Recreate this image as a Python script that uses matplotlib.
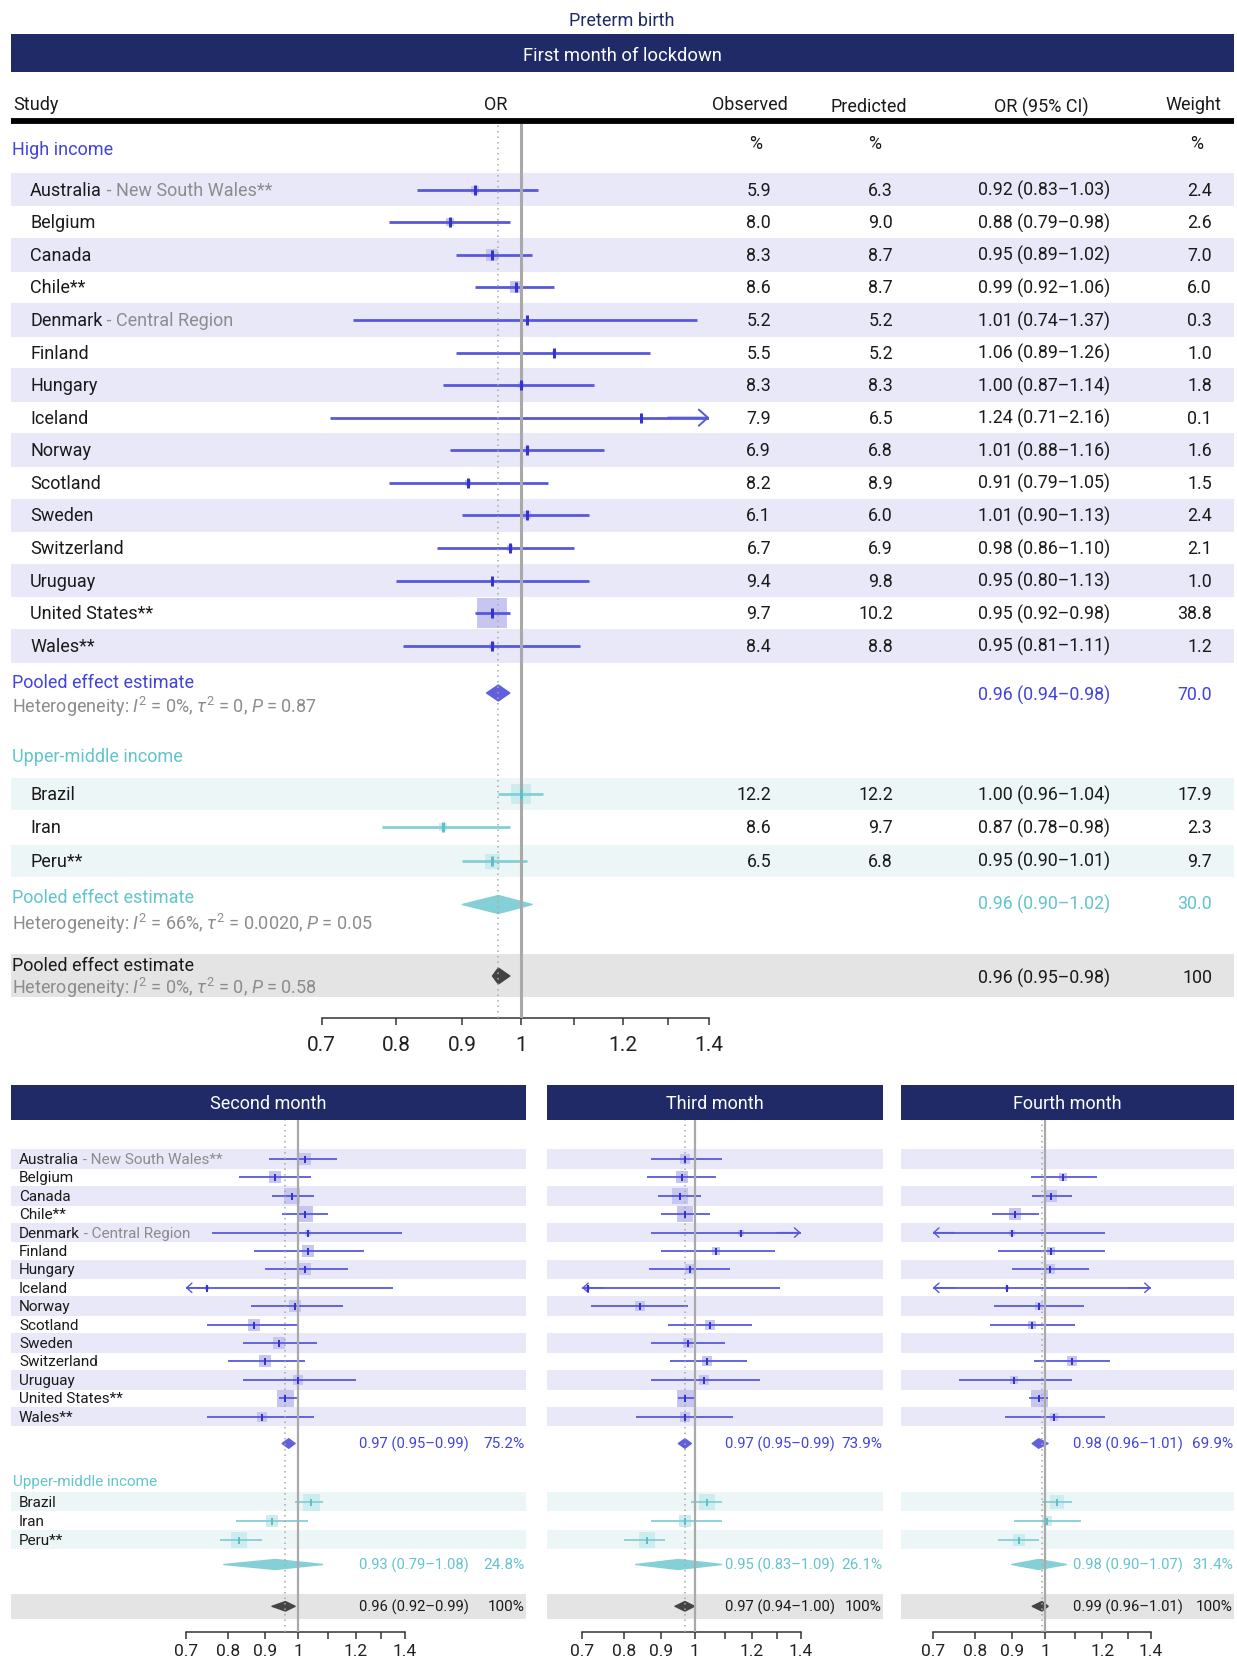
import numpy as np
import matplotlib
matplotlib.use("Agg")
import matplotlib.pyplot as plt
from matplotlib.patches import Polygon
from matplotlib.ticker import NullLocator

plt.rcParams['font.family'] = ['Roboto', 'DejaVu Sans']
plt.rcParams['mathtext.fontset'] = 'custom'
plt.rcParams['mathtext.rm'] = 'Roboto'
plt.rcParams['mathtext.it'] = 'Roboto:italic'

# ---------------- data ----------------
high_names = ["Australia", "Belgium", "Canada", "Chile**", "Denmark", "Finland", "Hungary",
              "Iceland", "Norway", "Scotland", "Sweden", "Switzerland", "Uruguay",
              "United States**", "Wales**"]
high_notes = ["New South Wales**", "", "", "", "Central Region", "", "", "", "", "", "", "", "", "", ""]
umi_names = ["Brazil", "Iran", "Peru**"]

# first month (15 high income, then 3 upper-middle income)
obs1 = [5.9, 8.0, 8.3, 8.6, 5.2, 5.5, 8.3, 7.9, 6.9, 8.2, 6.1, 6.7, 9.4, 9.7, 8.4, 12.2, 8.6, 6.5]
pred1 = [6.3, 9.0, 8.7, 8.7, 5.2, 5.2, 8.3, 6.5, 6.8, 8.9, 6.0, 6.9, 9.8, 10.2, 8.8, 12.2, 9.7, 6.8]
or1 = [0.92, 0.88, 0.95, 0.99, 1.01, 1.06, 1.00, 1.24, 1.01, 0.91, 1.01, 0.98, 0.95, 0.95, 0.95, 1.00, 0.87, 0.95]
lo1 = [0.83, 0.79, 0.89, 0.92, 0.74, 0.89, 0.87, 0.71, 0.88, 0.79, 0.90, 0.86, 0.80, 0.92, 0.81, 0.96, 0.78, 0.90]
hi1 = [1.03, 0.98, 1.02, 1.06, 1.37, 1.26, 1.14, 2.16, 1.16, 1.05, 1.13, 1.10, 1.13, 0.98, 1.11, 1.04, 0.98, 1.01]
w1 = [2.4, 2.6, 7.0, 6.0, 0.3, 1.0, 1.8, 0.1, 1.6, 1.5, 2.4, 2.1, 1.0, 38.8, 1.2, 17.9, 2.3, 9.7]

# second month (estimated from the figure)
or2 = [1.02, 0.93, 0.98, 1.02, 1.03, 1.03, 1.02, 0.75, 0.99, 0.87, 0.94, 0.90, 1.00, 0.96, 0.89, 1.04, 0.92, 0.83]
lo2 = [0.91, 0.83, 0.92, 0.95, 0.76, 0.87, 0.90, 0.52, 0.86, 0.75, 0.84, 0.80, 0.84, 0.94, 0.75, 0.99, 0.82, 0.78]
hi2 = [1.13, 1.04, 1.05, 1.10, 1.39, 1.23, 1.17, 1.35, 1.15, 1.00, 1.06, 1.02, 1.20, 1.00, 1.05, 1.08, 1.03, 0.89]
w2 = [5.4, 5.1, 8.0, 8.0, 1.4, 4.2, 5.4, 0.3, 4.5, 4.5, 5.4, 5.4, 3.0, 9.5, 3.0, 9.5, 5.4, 8.4]

# third month
or3 = [0.97, 0.96, 0.955, 0.97, 1.16, 1.07, 0.985, 0.714, 0.84, 1.05, 0.98, 1.04, 1.03, 0.97, 0.97, 1.04, 0.97, 0.86]
lo3 = [0.87, 0.86, 0.89, 0.90, 0.87, 0.90, 0.865, 0.45, 0.72, 0.92, 0.87, 0.925, 0.87, 0.95, 0.83, 0.99, 0.87, 0.80]
hi3 = [1.09, 1.07, 1.02, 1.05, 1.60, 1.29, 1.12, 1.31, 0.98, 1.20, 1.10, 1.18, 1.23, 1.00, 1.13, 1.09, 1.09, 0.91]
w3 = [5.0, 6.0, 9.4, 9.4, 1.9, 2.7, 3.4, 0.4, 5.0, 3.4, 5.0, 5.0, 3.4, 12.0, 3.4, 9.4, 6.0, 9.4]

# fourth month (no estimate for Australia and Sweden)
nan = np.nan
or4 = [nan, 1.06, 1.02, 0.91, 0.90, 1.02, 1.015, 0.885, 0.98, 0.96, nan, 1.09, 0.905, 0.98, 1.03, 1.04, 1.005, 0.92]
lo4 = [nan, 0.955, 0.96, 0.845, 0.55, 0.86, 0.90, 0.50, 0.85, 0.84, nan, 0.965, 0.76, 0.95, 0.88, 0.99, 0.905, 0.86]
hi4 = [nan, 1.18, 1.09, 0.98, 1.21, 1.21, 1.15, 1.70, 1.13, 1.10, nan, 1.23, 1.09, 1.01, 1.21, 1.09, 1.12, 0.98]
w4 = [nan, 4.7, 10.5, 9.0, 1.7, 3.1, 5.1, 0.6, 4.0, 4.0, nan, 5.1, 3.1, 18.0, 3.1, 14.0, 5.1, 9.0]

month_titles = ["First month of lockdown", "Second month", "Third month", "Fourth month"]
pool_high = [(0.96, 0.94, 0.98), (0.97, 0.95, 0.99), (0.97, 0.95, 0.99), (0.98, 0.96, 1.01)]
pool_high_w = [70.0, 75.2, 73.9, 69.9]
pool_umi = [(0.96, 0.90, 1.02), (0.93, 0.79, 1.08), (0.95, 0.83, 1.09), (0.98, 0.90, 1.07)]
pool_umi_w = [30.0, 24.8, 26.1, 31.4]
pool_all = [(0.96, 0.95, 0.98), (0.96, 0.92, 0.99), (0.97, 0.94, 1.00), (0.99, 0.96, 1.01)]
pool_all_w = [100, 100, 100, 100]
het_high = r"Heterogeneity: $I^2$ = 0%, $\tau^2$ = 0, $P$ = 0.87"
het_umi = r"Heterogeneity: $I^2$ = 66%, $\tau^2$ = 0.0020, $P$ = 0.05"
het_all = r"Heterogeneity: $I^2$ = 0%, $\tau^2$ = 0, $P$ = 0.58"

xticks = [0.7, 0.8, 0.9, 1, 1.1, 1.2, 1.3, 1.4]
xticklabels = ["0.7", "0.8", "0.9", "1", "", "1.2", "", "1.4"]

# ---------------- style ----------------
NAVY = "#1f2a66"
INK = "#1a1a1a"
GREY = "#8c8c8c"
BLUE = "#5858dc"
BLUE_TXT = "#4242dc"
BLUE_TICK = "#3333d4"
BLUE_SQ = "#c6c6f1"
BLUE_BAND = "#e8e8f8"
CYAN = "#84d0d6"
CYAN_TXT = "#62c4cc"
CYAN_TICK = "#5fbfc7"
CYAN_SQ = "#cdecef"
CYAN_BAND = "#edf6f7"
GREY_BAND = "#e4e4e4"
DARK = "#444444"
FS = 13       # labels in the top table
FV = 12.8     # numbers in the top table
FB = 11       # labels in the lower panels
FBV = 10.6    # numbers in the lower panels

W, H = 1237, 1658
fig = plt.figure(figsize=(W / 100, H / 100), dpi=100)
bg = fig.add_axes([0, 0, 1, 1])
bg.set_xlim(0, W)
bg.set_ylim(H, 0)
bg.axis("off")


def band(x0, x1, yc, h, color):
    bg.add_patch(plt.Rectangle((x0, yc - h / 2), x1 - x0, h, color=color, lw=0, zorder=0))


def label(x, y, main, note, size, color=INK):
    t = bg.text(x, y, main, ha="left", va="center", fontsize=size, color=color)
    if note:
        bg.annotate(" - " + note, xy=(1, 0.5), xycoords=t, ha="left", va="center",
                    fontsize=size, color=GREY)


def forest_axes(x0, x1, y0, y1, tick_size, pad):
    ax = fig.add_axes([x0 / W, 1 - y1 / H, (x1 - x0) / W, (y1 - y0) / H])
    ax.set_xscale("log")
    ax.set_xlim(0.7, 1.4)
    ax.set_ylim(y1, y0)
    ax.patch.set_alpha(0)
    for s in ["left", "right", "top"]:
        ax.spines[s].set_visible(False)
    ax.spines["bottom"].set_color("#333333")
    ax.spines["bottom"].set_linewidth(1.1)
    ax.set_yticks([])
    ax.set_xticks(xticks)
    ax.set_xticklabels(xticklabels)
    ax.xaxis.set_minor_locator(NullLocator())
    ax.tick_params(axis="x", length=5.3, width=1.1, color="#333333", labelsize=tick_size,
                   labelcolor="#222222", pad=pad)
    return ax


def arrow(ax, tip, start, y, col, st):
    ax.annotate("", xy=(tip, y), xytext=(start, y), annotation_clip=False,
                arrowprops=dict(arrowstyle="->,head_length=%g,head_width=%g" % (st["hl"], st["hw"]),
                                color=col, lw=st["alw"], shrinkA=0, shrinkB=0))


def study(ax, y, est, lo, hi, side, col, tcol, scol, st):
    if np.isnan(est):
        return
    ax.scatter([est], [y], marker="s", s=(side * 0.72) ** 2, color=scol, lw=0, zorder=2, clip_on=False)
    ax.hlines(y, max(lo, 0.7), min(hi, 1.4), color=col, lw=st["lw"], zorder=3)
    if hi > 1.4:
        arrow(ax, 1.4, 1.3, y, col, st)
    if lo < 0.7:
        arrow(ax, 0.7, 0.75, y, col, st)
    ax.plot([est], [y], marker="|", ms=st["th"] * 0.72, mew=st["tw"] * 0.72, color=tcol,
            zorder=5, clip_on=False)


def diamond(ax, y, est, lo, hi, h, col):
    ax.add_patch(Polygon([(lo, y), (est, y - h / 2), (hi, y), (est, y + h / 2)], closed=True,
                         fc=col, ec=col, lw=1, joinstyle="round", zorder=3))


def ref_lines(ax, pooled, lw):
    ax.axvline(1, color="#a9a9a9", lw=lw, zorder=4)
    ax.axvline(pooled, color="#a9a9a9", lw=1.1, ls=(0, (1, 2.6)), zorder=4)


# ---------------- top panel: first month ----------------
bg.text(622, 21, "Preterm birth", ha="center", va="center", fontsize=13, color=NAVY)
bg.add_patch(plt.Rectangle((11, 35), 1223, 38, color=NAVY, lw=0))
bg.text(622, 56, month_titles[0], ha="center", va="center", fontsize=13.2, color="white")

bg.text(13, 105, "Study", ha="left", va="center", fontsize=FS, color=INK)
bg.text(496, 105, "OR", ha="center", va="center", fontsize=FS, color=INK)
bg.text(750, 105, "Observed", ha="center", va="center", fontsize=FS, color=INK)
bg.text(869, 107, "Predicted", ha="center", va="center", fontsize=FS, color=INK)
bg.text(1041, 107, "OR (95% CI)", ha="center", va="center", fontsize=FS, color=INK)
bg.text(1193, 105, "Weight", ha="center", va="center", fontsize=FS, color=INK)
bg.plot([11, 1234], [122, 122], color="black", lw=4.2, solid_capstyle="butt")
bg.text(12, 150, "High income", ha="left", va="center", fontsize=FS, color=BLUE_TXT)
for xc in (756, 875, 1197):
    bg.text(xc, 144, "%", ha="center", va="center", fontsize=FV, color=INK)

top_st = dict(lw=2.0, th=10, tw=3, hl=0.65, hw=0.58, alw=1.4)
ax1 = forest_axes(321.7, 709.3, 125, 1019, 15, 7)

hy = [190.6 + i * 32.58 for i in range(len(high_names))]
uy = [795 + i * 33.4 for i in range(len(umi_names))]
maxw1 = np.nanmax(w1)

for i, name in enumerate(high_names):
    if i % 2 == 0:
        band(11, 1234, hy[i], 33.7, BLUE_BAND)
    label(30, hy[i], name, high_notes[i], FS)
    bg.text(771, hy[i], "%.1f" % obs1[i], ha="right", va="center", fontsize=FV, color=INK)
    bg.text(893, hy[i], "%.1f" % pred1[i], ha="right", va="center", fontsize=FV, color=INK)
    bg.text(1110, hy[i], "%.2f (%.2f\u2013%.2f)" % (or1[i], lo1[i], hi1[i]), ha="right",
            va="center", fontsize=FV, color=INK)
    bg.text(1212, hy[i], "%.1f" % w1[i], ha="right", va="center", fontsize=FV, color=INK)
    study(ax1, hy[i], or1[i], lo1[i], hi1[i], 30 * np.sqrt(w1[i] / maxw1), BLUE, BLUE_TICK, BLUE_SQ, top_st)

# pooled high income
bg.text(12, 683, "Pooled effect estimate", ha="left", va="center", fontsize=FS, color=BLUE_TXT)
bg.text(12, 707, het_high, ha="left", va="center", fontsize=FS, color=GREY)
e, l, h = pool_high[0]
bg.text(1110, 695, "%.2f (%.2f\u2013%.2f)" % (e, l, h), ha="right", va="center", fontsize=FV, color=BLUE_TXT)
bg.text(1212, 695, "%.1f" % pool_high_w[0], ha="right", va="center", fontsize=FV, color=BLUE_TXT)
diamond(ax1, 694, e, l, h, 16, "#6060df")

bg.text(12, 757, "Upper-middle income", ha="left", va="center", fontsize=FS, color=CYAN_TXT)
for j, name in enumerate(umi_names):
    i = len(high_names) + j
    if j % 2 == 0:
        band(11, 1234, uy[j], 32.5, CYAN_BAND)
    label(30, uy[j], name, "", FS)
    bg.text(771, uy[j], "%.1f" % obs1[i], ha="right", va="center", fontsize=FV, color=INK)
    bg.text(893, uy[j], "%.1f" % pred1[i], ha="right", va="center", fontsize=FV, color=INK)
    bg.text(1110, uy[j], "%.2f (%.2f\u2013%.2f)" % (or1[i], lo1[i], hi1[i]), ha="right",
            va="center", fontsize=FV, color=INK)
    bg.text(1212, uy[j], "%.1f" % w1[i], ha="right", va="center", fontsize=FV, color=INK)
    study(ax1, uy[j], or1[i], lo1[i], hi1[i], 30 * np.sqrt(w1[i] / maxw1), CYAN, CYAN_TICK, CYAN_SQ, top_st)

bg.text(12, 898, "Pooled effect estimate", ha="left", va="center", fontsize=FS, color=CYAN_TXT)
bg.text(12, 924, het_umi, ha="left", va="center", fontsize=FS, color=GREY)
e, l, h = pool_umi[0]
bg.text(1110, 904, "%.2f (%.2f\u2013%.2f)" % (e, l, h), ha="right", va="center", fontsize=FV, color=CYAN_TXT)
bg.text(1212, 904, "%.1f" % pool_umi_w[0], ha="right", va="center", fontsize=FV, color=CYAN_TXT)
diamond(ax1, 905.5, e, l, h, 18, CYAN)

band(11, 1234, 976.5, 43, GREY_BAND)
bg.text(12, 966, "Pooled effect estimate", ha="left", va="center", fontsize=FS, color=INK)
bg.text(12, 988, het_all, ha="left", va="center", fontsize=FS, color=GREY)
e, l, h = pool_all[0]
bg.text(1110, 978, "%.2f (%.2f\u2013%.2f)" % (e, l, h), ha="right", va="center", fontsize=FV, color=INK)
bg.text(1212, 978, "%d" % pool_all_w[0], ha="right", va="center", fontsize=FV, color=INK)
diamond(ax1, 977, e, l, h, 16, DARK)
ref_lines(ax1, pool_all[0][0], 2.2)

# ---------------- bottom panels: months 2-4 ----------------
panels = [
    dict(x0=11, x1=526, ax=(185.6, 404.7), est_x=469, data=(or2, lo2, hi2, w2)),
    dict(x0=547, x1=883, ax=(582.0, 800.7), est_x=835, data=(or3, lo3, hi3, w3)),
    dict(x0=901, x1=1234, ax=(932.7, 1151.0), est_x=1183, data=(or4, lo4, hi4, w4)),
]
bot_st = dict(lw=1.3, th=7, tw=2, hl=0.38, hw=0.34, alw=1.0)
by = [1160 + i * 18.4 for i in range(len(high_names))]
buy = [1502.7 + i * 19 for i in range(len(umi_names))]

for k, p in enumerate(panels):
    m = k + 1
    est, lo, hi, w = p["data"]
    maxw = np.nanmax(w)
    bg.add_patch(plt.Rectangle((p["x0"], 1086), p["x1"] - p["x0"], 35, color=NAVY, lw=0))
    bg.text((p["x0"] + p["x1"]) / 2, 1104, month_titles[m], ha="center", va="center",
            fontsize=13, color="white")
    ax = forest_axes(p["ax"][0], p["ax"][1], 1121, 1632.7, 12.5, 3)
    for i in range(len(high_names)):
        if i % 2 == 0:
            band(p["x0"], p["x1"], by[i], 19.5, BLUE_BAND)
        if k == 0:
            label(19, by[i], high_names[i], high_notes[i], FB)
        if not np.isnan(est[i]):
            study(ax, by[i], est[i], lo[i], hi[i], 17 * np.sqrt(w[i] / maxw), BLUE, BLUE_TICK, BLUE_SQ, bot_st)
    e, l, h = pool_high[m]
    diamond(ax, 1444.5, e, l, h, 9.5, "#6060df")
    bg.text(p["est_x"], 1444.5, "%.2f (%.2f\u2013%.2f)" % (e, l, h), ha="right", va="center",
            fontsize=FBV, color=BLUE_TXT)
    bg.text(p["x1"] - 1, 1444.5, "%.1f%%" % pool_high_w[m], ha="right", va="center",
            fontsize=FB, color=BLUE_TXT)
    if k == 0:
        bg.text(13, 1482, "Upper-middle income", ha="left", va="center", fontsize=FB, color=CYAN_TXT)
    for j in range(len(umi_names)):
        i = len(high_names) + j
        if j % 2 == 0:
            band(p["x0"], p["x1"], buy[j], 19.5, CYAN_BAND)
        if k == 0:
            label(19, buy[j], umi_names[j], "", FB)
        study(ax, buy[j], est[i], lo[i], hi[i], 17 * np.sqrt(w[i] / maxw), CYAN, CYAN_TICK, CYAN_SQ, bot_st)
    e, l, h = pool_umi[m]
    diamond(ax, 1565.5, e, l, h, 10, CYAN)
    bg.text(p["est_x"], 1565.5, "%.2f (%.2f\u2013%.2f)" % (e, l, h), ha="right", va="center",
            fontsize=FBV, color=CYAN_TXT)
    bg.text(p["x1"] - 1, 1565.5, "%.1f%%" % pool_umi_w[m], ha="right", va="center",
            fontsize=FB, color=CYAN_TXT)
    band(p["x0"], p["x1"], 1607.3, 24.5, GREY_BAND)
    e, l, h = pool_all[m]
    diamond(ax, 1607.3, e, l, h, 9.5, DARK)
    bg.text(p["est_x"], 1607.3, "%.2f (%.2f\u2013%.2f)" % (e, l, h), ha="right", va="center",
            fontsize=FBV, color=INK)
    bg.text(p["x1"] - 1, 1607.3, "%d%%" % pool_all_w[m], ha="right", va="center",
            fontsize=FB, color=INK)
    ref_lines(ax, e, 1.6)

fig.savefig("out.png", dpi=100)
